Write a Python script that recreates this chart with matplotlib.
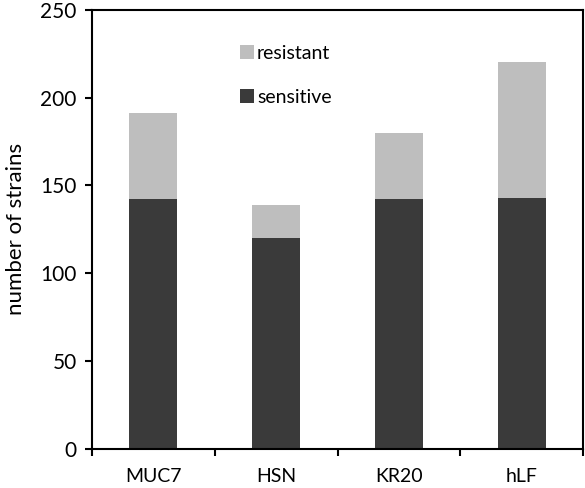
import matplotlib
matplotlib.use("Agg")
import matplotlib.pyplot as plt
import numpy as np

plt.rcParams['font.family'] = ['Lato', 'DejaVu Sans']

peptides = ["MUC7", "HSN", "KR20", "hLF"]
sensitive = [142, 120, 142, 143]
resistant = [49, 19, 38, 77]

fig = plt.figure(figsize=(5.85, 4.88), dpi=100)
ax = fig.add_axes([0.157, 0.080, 0.840, 0.900])

x = np.arange(len(peptides))
ax.bar(x, sensitive, width=0.39, color='#3a3a3a', label='sensitive')
ax.bar(x, resistant, width=0.39, bottom=sensitive, color='#bebebe', label='resistant')

ax.set_xlim(-0.5, len(peptides) - 0.5)
ax.set_ylim(0, 250)
ax.set_yticks(np.arange(0, 251, 50))
ax.set_xticks(x)
ax.set_xticklabels(peptides, fontsize=14)
ax.set_xticks(np.arange(-0.5, len(peptides)), minor=True)
ax.tick_params(axis='x', which='major', length=0, pad=14)
ax.tick_params(axis='x', which='minor', length=5, width=1.5, direction='out')
ax.tick_params(axis='y', labelsize=15, length=5, width=1.5, direction='out', pad=6)
for s in ax.spines.values():
    s.set_linewidth(1.5)
ax.set_ylabel("number of strains", fontsize=16, labelpad=10)

handles, labels = ax.get_legend_handles_labels()
ax.legend(handles[::-1], labels[::-1], loc='upper left', bbox_to_anchor=(0.265, 0.96),
          frameon=False, fontsize=14, handlelength=0.75, handleheight=0.75,
          handletextpad=0.15, labelspacing=1.4)

fig.savefig("out.png", dpi=100)
